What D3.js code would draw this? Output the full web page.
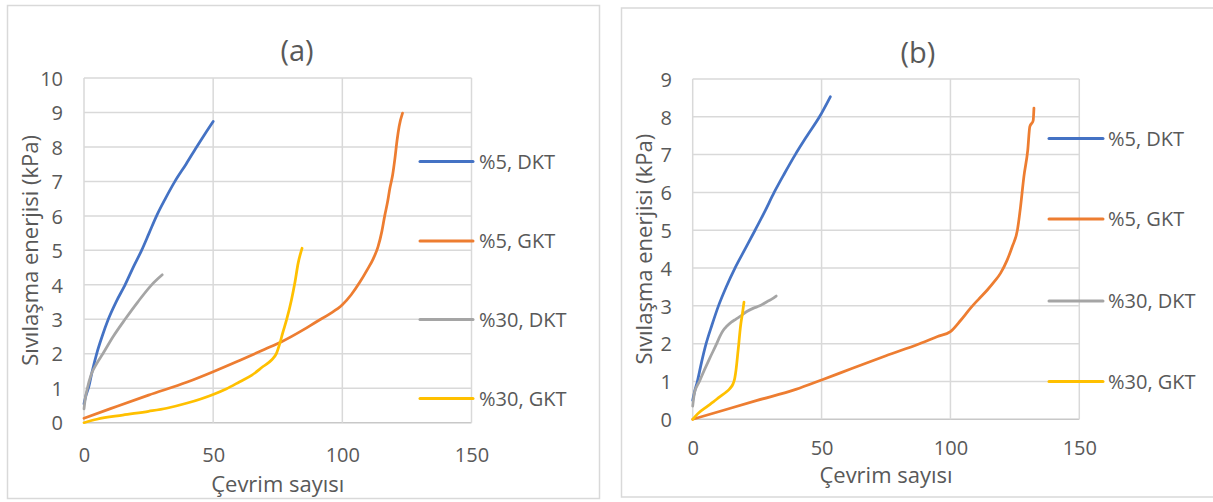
<!DOCTYPE html>
<html>
<head>
<meta charset="utf-8">
<script src="https://cdn.jsdelivr.net/npm/d3@7"></script>
<style>
  html, body { margin: 0; padding: 0; background: #fff; }
  svg { display: block; }
  text { font-family: "Open Sans", "Noto Sans", sans-serif; fill: #595959; }
</style>
</head>
<body>
<svg id="chart" width="1213" height="502"></svg>
<script>
// ---------- Data ----------
const seriesNames = ["%5, DKT", "%5, GKT", "%30, DKT", "%30, GKT"];
const seriesColors = ["#4472C4", "#ED7D31", "#A5A5A5", "#FFC000"];
const xTicks = [0, 50, 100, 150];
const yTicksA = [0, 1, 2, 3, 4, 5, 6, 7, 8, 9, 10];
const yTicksB = [0, 1, 2, 3, 4, 5, 6, 7, 8, 9];
const xTitle = "Çevrim sayısı";
const yTitle = "Sıvılaşma enerjisi (kPa)";

// Panel (a)
const a_dkt5 = [[0,0.55],[0.8,0.8],[1.7,1],[3.2,1.5],[4.9,2],[7,2.5],[9.4,3],[12.4,3.5],[15.9,4],[19,4.5],[22.3,5],[25.2,5.5],[28.1,6],[31.5,6.5],[35.2,7],[39.5,7.5],[43.6,8],[47,8.4],[50,8.74]];
const a_gkt5 = [[0,0.13],[10,0.4],[25,0.8],[40,1.18],[50,1.48],[60,1.8],[70,2.13],[76.5,2.35],[85,2.7],[90,2.93],[95,3.15],[100,3.42],[103.5,3.72],[106.8,4.08],[109.5,4.42],[112,4.76],[113.8,5.1],[115.3,5.55],[116.4,6],[117.5,6.4],[118.4,6.8],[119.5,7.2],[120.3,7.63],[121.2,8.2],[122,8.6],[123.3,8.98]];
const a_dkt30 = [[0,0.4],[0.5,0.7],[1.3,1],[2.8,1.4],[4.8,1.7],[7.3,2],[11.3,2.5],[15.9,3],[20.8,3.5],[26.2,4],[30.3,4.29]];
const a_gkt30 = [[0,0],[5,0.1],[15,0.22],[25,0.33],[32,0.42],[40,0.57],[50,0.82],[55,0.98],[60.3,1.19],[65,1.38],[69.3,1.63],[72.6,1.82],[74.5,2.01],[75.8,2.3],[76.9,2.6],[78.4,2.98],[80.3,3.56],[81.6,4.05],[82.9,4.63],[84.4,5.06]];

// Panel (b)
const b_dkt5 = [[0,0.5],[0.8,0.75],[1.8,1],[3.4,1.5],[5.2,2],[7.5,2.5],[10,3],[13,3.5],[16.4,4],[20.3,4.5],[24.2,5],[28,5.5],[31.6,6],[35.6,6.5],[39.8,7],[44.4,7.5],[49.2,8],[53.4,8.53]];
const b_gkt5 = [[0,0],[10,0.2],[25,0.5],[40,0.79],[50,1.04],[62,1.35],[75,1.68],[88,2.0],[95,2.19],[100,2.32],[104,2.62],[107.8,2.94],[111,3.18],[114.3,3.42],[117,3.64],[119.4,3.86],[122,4.21],[124,4.57],[126,5.01],[127.2,5.62],[128.5,6.42],[130,7.12],[130.8,7.74],[132.1,7.9],[132.4,8.23]];
const b_dkt30 = [[0,0.35],[0.7,0.7],[2.6,1],[4.5,1.3],[6.5,1.6],[9.3,2],[10.6,2.2],[11.8,2.35],[13.2,2.46],[15,2.57],[16.8,2.65],[18.4,2.72],[21,2.85],[23.6,2.94],[26,3.0],[28.8,3.11],[30.5,3.17],[32.4,3.26]];
const b_gkt30 = [[0,0],[2,0.15],[5.4,0.33],[8,0.46],[10.6,0.6],[13,0.72],[14.5,0.82],[15.6,0.93],[16.3,1.08],[16.8,1.3],[17.1,1.48],[17.5,1.75],[17.9,2.01],[18.3,2.3],[18.7,2.54],[19.3,2.8],[19.9,3.1]];

// ---------- Layout ----------
const panels = [
  { title: "(a)", series: [a_dkt5, a_gkt5, a_dkt30, a_gkt30], yTicks: yTicksA, yMax: 10,
    frame: {x: 7.5, y: 5.5, w: 592, h: 493},
    plot: {x0: 84, x1: 471.5, y0: 422.7, y1: 78},
    titleX: 297, titleY: 51,
    yLabelX: 63, yTitleX: 30, xTickY: 455, xTitleY: 484,
    legX0: 420, legX1: 473, legTextX: 479, legY: [161.5, 241, 319.5, 398.5] },
  { title: "(b)", series: [b_dkt5, b_gkt5, b_dkt30, b_gkt30], yTicks: yTicksB, yMax: 9,
    frame: {x: 621.5, y: 8, w: 620, h: 489},
    plot: {x0: 692.7, x1: 1079.3, y0: 419.3, y1: 79},
    titleX: 918, titleY: 53,
    yLabelX: 672, yTitleX: 644, xTickY: 448, xTitleY: 475,
    legX0: 1049, legX1: 1103, legTextX: 1108, legY: [138.5, 219, 301, 381.5] }
];

const svg = d3.select("#chart");

panels.forEach(p => {
  const g = svg.append("g");
  g.append("rect")
    .attr("x", p.frame.x).attr("y", p.frame.y)
    .attr("width", p.frame.w).attr("height", p.frame.h)
    .attr("fill", "#fff").attr("stroke", "#D9D9D9").attr("stroke-width", 1.5);

  const x = d3.scaleLinear().domain([0, 150]).range([p.plot.x0, p.plot.x1]);
  const y = d3.scaleLinear().domain([0, p.yMax]).range([p.plot.y0, p.plot.y1]);

  g.append("g").selectAll("line").data(p.yTicks).join("line")
    .attr("x1", p.plot.x0).attr("x2", p.plot.x1)
    .attr("y1", d => y(d)).attr("y2", d => y(d))
    .attr("stroke", d => d === 0 ? "#C8C8C8" : "#D9D9D9").attr("stroke-width", 1.5);
  g.append("g").selectAll("line").data(xTicks).join("line")
    .attr("x1", d => x(d)).attr("x2", d => x(d))
    .attr("y1", p.plot.y0).attr("y2", p.plot.y1)
    .attr("stroke", "#D9D9D9").attr("stroke-width", 1.5);

  const yAxis = d3.axisLeft(y).tickValues(p.yTicks).tickSize(0).tickPadding(0).tickFormat(d3.format("d"));
  const yg = g.append("g").attr("transform", `translate(${p.yLabelX},0)`).call(yAxis);
  yg.select(".domain").remove();
  yg.selectAll("text").attr("font-size", 20).attr("fill", "#595959").attr("dy", "0.36em")
    .style("font-family", "'Open Sans', sans-serif");

  const xAxis = d3.axisBottom(x).tickValues(xTicks).tickSize(0).tickPadding(0).tickFormat(d3.format("d"));
  const xg = g.append("g").attr("transform", `translate(0,${p.xTickY})`).call(xAxis);
  xg.select(".domain").remove();
  xg.selectAll("text").attr("font-size", 20).attr("fill", "#595959").attr("y", 0).attr("dy", "0.36em")
    .style("font-family", "'Open Sans', sans-serif");

  g.append("text").attr("x", p.titleX).attr("y", p.titleY).attr("dy", "0.36em")
    .attr("text-anchor", "middle").attr("font-size", 29).text(p.title);
  g.append("text").attr("x", (p.plot.x0 + p.plot.x1) / 2).attr("y", p.xTitleY).attr("dy", "0.36em")
    .attr("text-anchor", "middle").attr("font-size", 22).text(xTitle);
  g.append("text")
    .attr("transform", `translate(${p.yTitleX},${(p.plot.y0 + p.plot.y1) / 2}) rotate(-90)`)
    .attr("text-anchor", "middle").attr("dy", "0.36em").attr("font-size", 22).text(yTitle);

  const line = d3.line().x(d => x(d[0])).y(d => y(d[1])).curve(d3.curveMonotoneX);
  p.series.forEach((s, i) => {
    g.append("path").datum(s).attr("d", line)
      .attr("fill", "none").attr("stroke", seriesColors[i])
      .attr("stroke-width", 2.75).attr("stroke-linejoin", "round").attr("stroke-linecap", "round");
  });

  const leg = g.append("g");
  seriesNames.forEach((name, i) => {
    leg.append("line").attr("x1", p.legX0).attr("x2", p.legX1)
      .attr("y1", p.legY[i]).attr("y2", p.legY[i])
      .attr("stroke", seriesColors[i]).attr("stroke-width", 3).attr("stroke-linecap", "round");
    leg.append("text").attr("x", p.legTextX).attr("y", p.legY[i]).attr("dy", "0.36em")
      .attr("font-size", 20).text(name);
  });
});
</script>
</body>
</html>
